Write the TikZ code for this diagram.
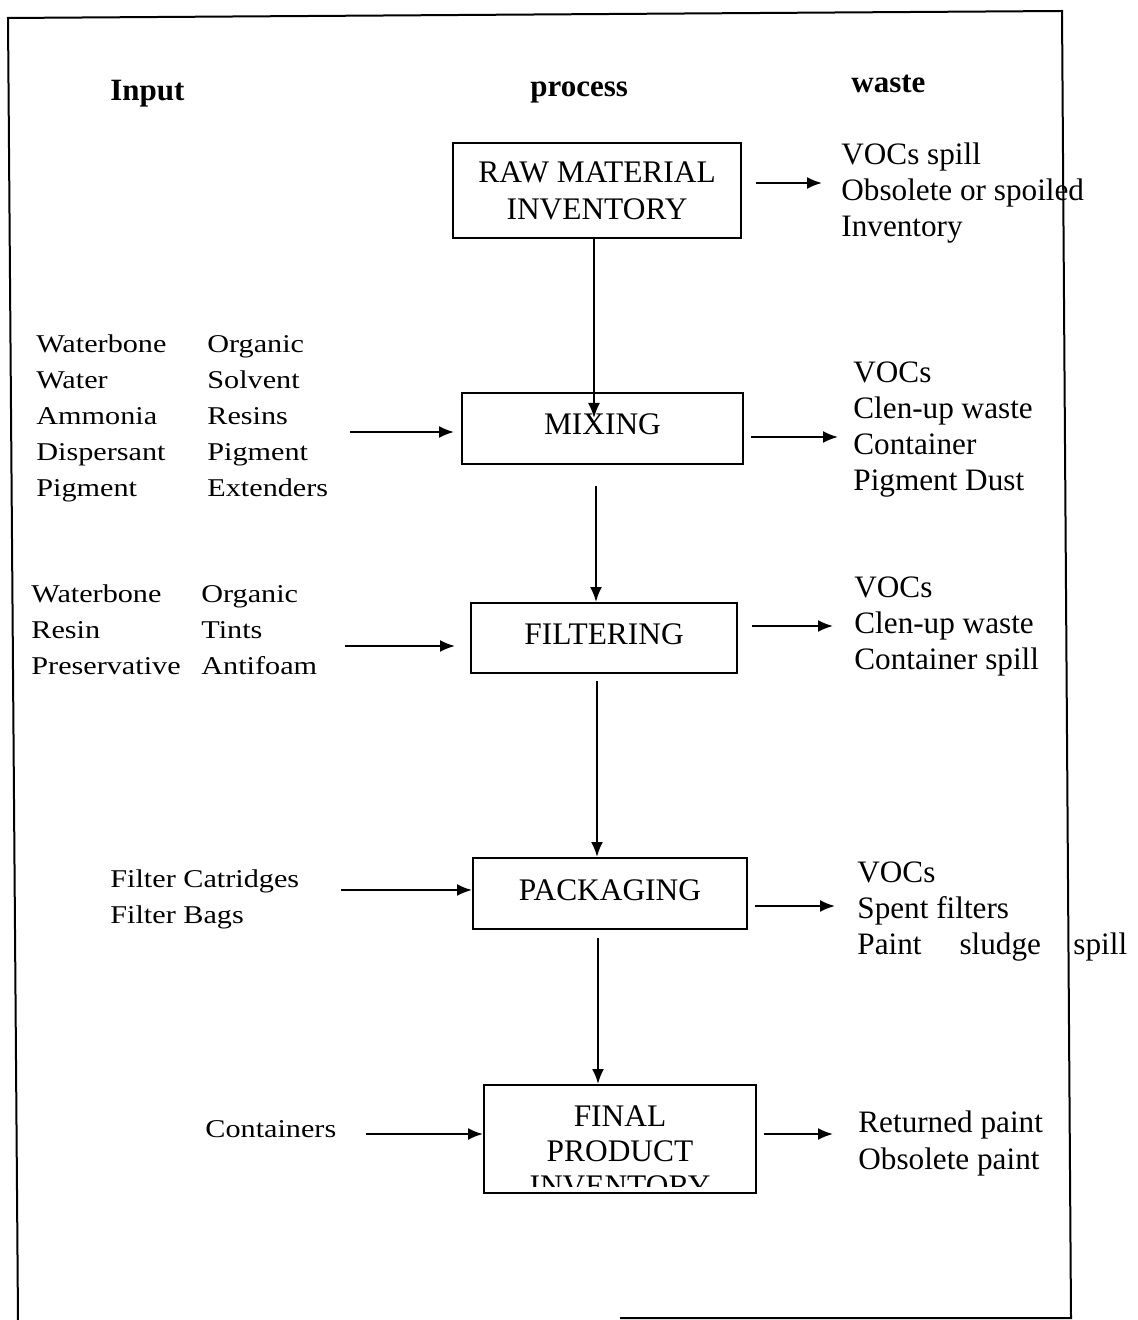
\documentclass[tikz,border=0pt]{standalone}
\usepackage{fontspec}
\setmainfont{Liberation Serif}
\newfontfamily\widefont[FakeStretch=1.18]{Liberation Serif}
\usetikzlibrary{arrows.meta}
\begin{document}
\begin{tikzpicture}[x=0.5pt,y=-0.5pt,
  arr/.style={line width=1pt,-{Latex[length=7.5pt,width=6pt]}},
  box/.style={draw,line width=1pt,inner sep=0pt,align=center,font=\fontsize{15.7}{18.5}\selectfont},
  rtxt/.style={anchor=base west,inner sep=0pt,align=left,font=\fontsize{15.6}{18}\selectfont},
  ltxt/.style={anchor=base west,inner sep=0pt,align=left,font=\widefont\fontsize{12.8}{18}\selectfont},
  head/.style={anchor=base west,inner sep=0pt,font=\bfseries\fontsize{15.5}{18}\selectfont}]
\useasboundingbox (0,0) rectangle (1137,1320);
% frame
\draw[line width=1pt] (620,1318) -- (1071,1318) -- (1062,11) -- (8,18) -- (18,1320);
% headers
\node[head] (hin) at (110,101) {Input};
\node[head] (hpr) at (530,97) {process};
\node[head] (hwa) at (851,93) {waste};
% boxes
\node[box,minimum width=144pt,minimum height=47.5pt,yshift=-1pt] (raw) at (597,188.5) {RAW MATERIAL\\INVENTORY};
\node[box,minimum width=140.5pt,minimum height=35.5pt,text depth=4pt] (mix) at (602.5,428.5) {MIXING};
\node[box,minimum width=133pt,minimum height=35pt,text depth=4pt] (filt) at (604,638) {FILTERING};
\node[box,minimum width=137pt,minimum height=35.5pt,text depth=3.5pt] (pack) at (610,893.5) {PACKAGING};
\node[box,minimum width=136pt,minimum height=54pt] (final) at (620,1139) {};
\begin{scope}
\clip ([shift={(1,1)}]final.north west) rectangle ([shift={(-1,-8)}]final.south east);
\node[anchor=base,inner sep=0pt,align=center,font=\fontsize{15.7}{17.5}\selectfont] (fitxt) at (620,1196) {FINAL\\PRODUCT\\INVENTORY};
\end{scope}
% inputs (anchor = baseline of last line)
\node[ltxt] (min1) at (36,496) {Waterbone\\Water\\Ammonia\\Dispersant\\Pigment};
\node[ltxt] (min2) at (207,496) {Organic\\Solvent\\Resins\\Pigment\\Extenders};
\node[ltxt] (fin1) at (31,674) {Waterbone\\Resin\\Preservative};
\node[ltxt] (fin2) at (201,674) {Organic\\Tints\\Antifoam};
\node[ltxt] (pin) at (110,923) {Filter Catridges\\Filter Bags};
\node[ltxt] (fiin) at (205,1137) {Containers};
% wastes
\node[rtxt] (rwaste) at (841,237) {VOCs spill\\Obsolete or spoiled\\Inventory};
\node[rtxt] (mwaste) at (853,490) {VOCs\\Clen-up waste\\Container\\Pigment Dust};
\node[rtxt] (fwaste) at (854,669) {VOCs\\Clen-up waste\\Container spill};
\node[rtxt] (pwaste) at (857,954) {VOCs\\Spent filters\\Paint\hspace*{19pt}sludge};
\node[rtxt] (pspill) at (1073,954) {spill};
\node[rtxt,font=\fontsize{15.6}{18.5}\selectfont] (fiwaste) at (858,1169) {Returned paint\\Obsolete paint};
% free ends
\coordinate (rwa) at (822,183);
\coordinate (mia) at (350,432);
\coordinate (mwa) at (838,437);
\coordinate (fia) at (345,646);
\coordinate (fwa) at (833,626);
\coordinate (pia) at (341,890);
\coordinate (pwa) at (835,906);
\coordinate (fiia) at (366,1134);
\coordinate (fiwa) at (833,1134);
% arrows
\draw[arr] ([shift={(-3,-2)}]raw.south) -- ([shift={(-8.5,-10.5)}]mix.center);
\draw[arr] ([shift={(14,-7.5)}]raw.east) -- (rwa);
\draw[arr] (mia) -- ([shift={(-7,3.5)}]mix.west);
\draw[arr] ([shift={(7,8.5)}]mix.east) -- (mwa);
\draw[arr] ([shift={(-6.5,21)}]mix.south) -- ([shift={(-8,0)}]filt.north);
\draw[arr] (fia) -- ([shift={(-15,8)}]filt.west);
\draw[arr] ([shift={(14,-12)}]filt.east) -- (fwa);
\draw[arr] ([shift={(-7,7)}]filt.south) -- ([shift={(-13,0)}]pack.north);
\draw[arr] (pia) -- ([shift={(0,-3.5)}]pack.west);
\draw[arr] ([shift={(7,12.5)}]pack.east) -- (pwa);
\draw[arr] ([shift={(-12,8)}]pack.south) -- ([shift={(-22,0)}]final.north);
\draw[arr] (fiia) -- ([shift={(0,-5)}]final.west);
\draw[arr] ([shift={(7,-5)}]final.east) -- (fiwa);
\end{tikzpicture}
\end{document}
